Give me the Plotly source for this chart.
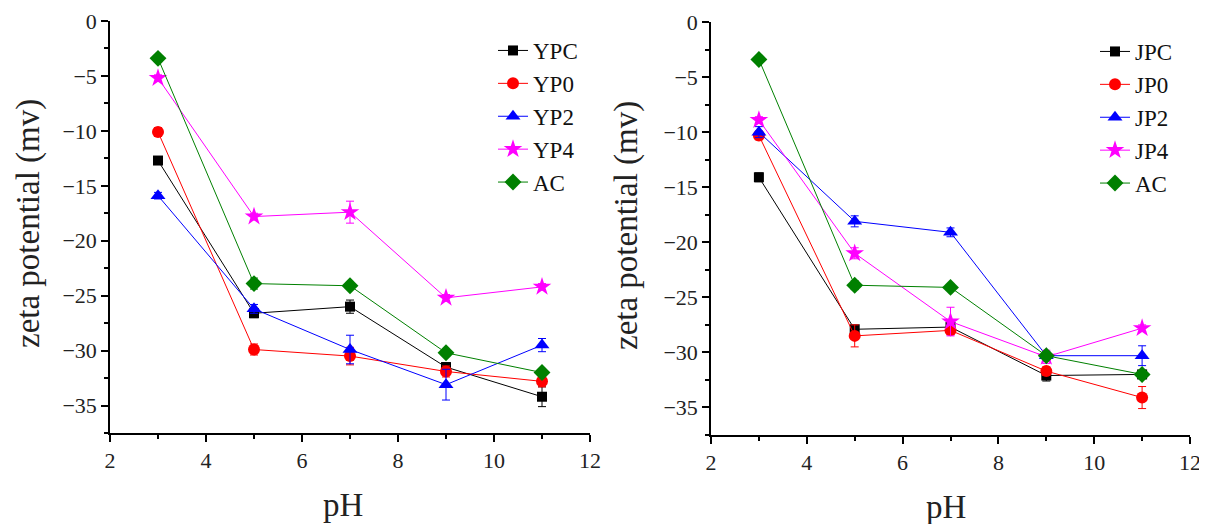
import plotly.graph_objects as go

ph = [3, 5, 7, 9, 11]

left_names = ["YPC", "YP0", "YP2", "YP4", "AC"]
left_vals = [
    [-12.7, -26.6, -26.0, -31.5, -34.2],
    [-10.1, -29.9, -30.5, -31.9, -32.8],
    [-15.9, -26.2, -29.9, -33.1, -29.5],
    [-5.2, -17.8, -17.4, -25.2, -24.2],
    [-3.4, -23.9, -24.1, -30.2, -32.0],
]
left_err = [
    [0.3, 0.4, 0.6, 0.4, 0.9],
    [0.4, 0.5, 0.8, 0.5, 0.5],
    [0.3, 0.4, 1.3, 1.4, 0.6],
    [0.3, 0.3, 1.0, 0.3, 0.3],
    [0.2, 0.5, 0.3, 0.3, 0.3],
]

right_names = ["JPC", "JP0", "JP2", "JP4", "AC"]
right_vals = [
    [-14.1, -27.9, -27.7, -32.1, -32.0],
    [-10.3, -28.5, -28.0, -31.7, -34.1],
    [-10.0, -18.1, -19.1, -30.3, -30.3],
    [-8.9, -21.0, -27.2, -30.4, -27.8],
    [-3.4, -23.9, -24.1, -30.3, -32.0],
]
right_err = [
    [0.4, 0.3, 0.3, 0.5, 0.3],
    [0.4, 1.0, 0.4, 0.4, 1.0],
    [0.5, 0.5, 0.4, 0.4, 0.9],
    [0.3, 0.5, 1.3, 0.6, 0.3],
    [0.2, 0.4, 0.2, 0.3, 0.3],
]

colors = ["#000000", "#FF0000", "#0000FF", "#FF00FF", "#008000"]
symbols = ["square", "circle", "triangle-up", "star", "diamond"]
sizes = [10, 12, 13, 14, 13]

FONT = "Liberation Serif"
W, H = 1207, 524
OFF = 8  # page body margin offset


def fx(px):
    return (px - OFF) / W


def fy(py):
    return 1 - (py - OFF) / H


fig = go.Figure()

for i in range(5):
    fig.add_trace(go.Scatter(
        x=ph, y=left_vals[i], name=left_names[i], mode="lines+markers",
        line=dict(color=colors[i], width=1),
        marker=dict(symbol=symbols[i], size=sizes[i], color=colors[i]),
        error_y=dict(type="data", array=left_err[i], color=colors[i], thickness=1, width=4),
        xaxis="x", yaxis="y", legend="legend",
    ))
for i in range(5):
    fig.add_trace(go.Scatter(
        x=ph, y=right_vals[i], name=right_names[i], mode="lines+markers",
        line=dict(color=colors[i], width=1),
        marker=dict(symbol=symbols[i], size=sizes[i], color=colors[i]),
        error_y=dict(type="data", array=right_err[i], color=colors[i], thickness=1, width=4),
        xaxis="x2", yaxis="y2", legend="legend2",
    ))


def xax(domain, anchor):
    return dict(domain=domain, anchor=anchor, range=[2, 12], dtick=2, tick0=2,
                showline=True, linecolor="black", linewidth=1.5, showgrid=False,
                zeroline=False, ticks="outside", ticklen=7, tickwidth=1.5, tickcolor="black",
                minor=dict(dtick=1, ticks="outside", ticklen=4, tickwidth=1.5, tickcolor="black", showgrid=False),
                tickfont=dict(family=FONT, size=22, color="#222"), automargin=False,
                ticklabeloverflow="allow")


def yax(domain, anchor):
    return dict(domain=domain, anchor=anchor, range=[-37.5, 0], dtick=5, tick0=0,
                showline=True, linecolor="black", linewidth=1.5, showgrid=False,
                zeroline=False, ticks="outside", ticklen=7, tickwidth=1.5, tickcolor="black",
                minor=dict(dtick=2.5, ticks="outside", ticklen=4, tickwidth=1.5, tickcolor="black", showgrid=False),
                tickfont=dict(family=FONT, size=22, color="#222"), automargin=False,
                ticklabeloverflow="allow")


legend_common = dict(font=dict(family=FONT, size=23, color="#111"), bgcolor="rgba(0,0,0,0)",
                     xanchor="left", yanchor="top", tracegroupgap=0, itemwidth=30)

title_font = dict(family=FONT, size=33, color="#222")

fig.update_layout(
    width=W, height=H,
    margin=dict(l=0, r=0, t=0, b=0, autoexpand=False),
    paper_bgcolor="white", plot_bgcolor="white",
    xaxis=xax([fx(110), fx(590)], "y"),
    yaxis=yax([fy(433), fy(21)], "x"),
    xaxis2=xax([fx(711), fx(1190)], "y2"),
    yaxis2=yax([fy(435), fy(22)], "x2"),
    legend=dict(x=fx(493), y=fy(29), **legend_common),
    legend2=dict(x=fx(1095), y=fy(30), **legend_common),
    showlegend=True,
    annotations=[
        dict(text="zeta potential (mv)", x=fx(28), y=fy(224), xref="paper", yref="paper",
             xanchor="center", yanchor="middle", textangle=-90, showarrow=False, font=title_font),
        dict(text="zeta potential (mv)", x=fx(627), y=fy(226), xref="paper", yref="paper",
             xanchor="center", yanchor="middle", textangle=-90, showarrow=False, font=title_font),
        dict(text="pH", x=fx(343), y=fy(505), xref="paper", yref="paper",
             xanchor="center", yanchor="middle", showarrow=False, font=title_font),
        dict(text="pH", x=fx(946), y=fy(507), xref="paper", yref="paper",
             xanchor="center", yanchor="middle", showarrow=False, font=title_font),
    ],
)

fig.write_html("out.html")
